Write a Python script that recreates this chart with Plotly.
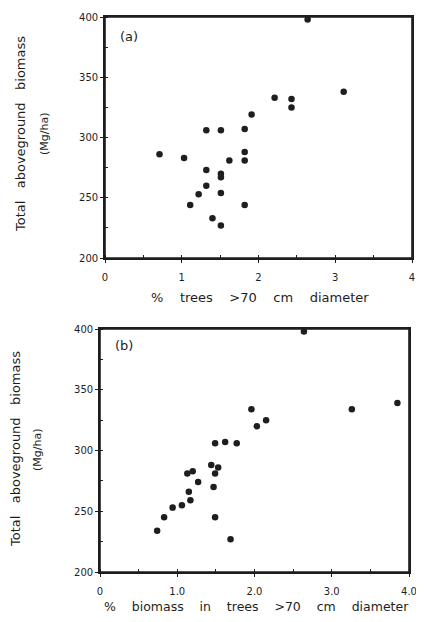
import plotly.graph_objects as go

# Panel (a): % trees >70 cm diameter vs total aboveground biomass
a_x = [2.64, 3.11, 2.21, 2.43, 2.43, 1.91, 1.32, 1.51, 1.82, 0.71, 1.03, 1.82,
       1.62, 1.82, 1.32, 1.51, 1.51, 1.32, 1.22, 1.51, 1.11, 1.82, 1.40, 1.51]
a_y = [398, 338, 333, 332, 325, 319, 306, 306, 307, 286, 283, 288,
       281, 281, 273, 270, 267, 260, 253, 254, 244, 244, 233, 227]

# Panel (b): % biomass in trees >70 cm diameter vs total aboveground biomass
b_x = [2.64, 3.85, 3.26, 1.96, 2.15, 2.03, 1.49, 1.62, 1.77, 1.44, 1.53, 1.49,
       1.20, 1.13, 1.27, 1.47, 1.15, 1.17, 1.06, 0.94, 0.83, 1.49, 0.74, 1.69]
b_y = [398, 339, 334, 334, 325, 320, 306, 307, 306, 288, 286, 281,
       283, 281, 274, 270, 266, 259, 255, 253, 245, 245, 234, 227]

y_ticks = [200, 250, 300, 350, 400]
a_xticks = [0, 1, 2, 3, 4]
a_xlabels = ["0", "1", "2", "3", "4"]
b_xticks = [0, 1, 2, 3, 4]
b_xlabels = ["0", "1.0", "2.0", "3.0", "4.0"]

# page body has an 8px margin; the visible width ends a little before 424
OFF = 8
W, H = 424 - OFF, 622 - 2 * OFF
FONT = "DejaVu Sans"
INK = "#1e1e1e"

def xp(X):  # window pixel -> paper fraction
    return (X - OFF) / W

def yp(Y):
    return 1 - (Y - OFF) / H

fig = go.Figure()
marker = dict(color=INK, size=6.5, symbol="circle")
fig.add_trace(go.Scatter(x=a_x, y=a_y, mode="markers", marker=marker,
                         xaxis="x", yaxis="y", showlegend=False))
fig.add_trace(go.Scatter(x=b_x, y=b_y, mode="markers", marker=marker,
                         xaxis="x2", yaxis="y2", showlegend=False))

def xax(domain, anchor, tickvals, ticktext):
    return dict(domain=domain, anchor=anchor, range=[0, 4], tickvals=tickvals,
                ticktext=ticktext, showgrid=False, zeroline=False, automargin=False,
                showline=True, linecolor=INK, linewidth=1.6, mirror=True,
                ticks="outside", ticklen=3, tickcolor=INK, tickwidth=1.2,
                ticklabelstandoff=6, ticklabeloverflow="allow",
                minor=dict(ticks="inside", ticklen=3, dtick=0.5, tickcolor=INK,
                           tickwidth=1, showgrid=False),
                tickfont=dict(family=FONT, size=10, color=INK))

def yax(domain, anchor):
    return dict(domain=domain, anchor=anchor, range=[200, 400], tickvals=y_ticks,
                showgrid=False, zeroline=False, automargin=False,
                showline=True, linecolor=INK, linewidth=1.6, mirror=True,
                ticks="outside", ticklen=3, tickcolor=INK, tickwidth=1.2,
                ticklabeloverflow="allow",
                minor=dict(ticks="inside", ticklen=3, dtick=25, tickcolor=INK,
                           tickwidth=1, showgrid=False),
                tickfont=dict(family=FONT, size=10, color=INK))

fig.update_layout(
    width=W, height=H, autosize=False,
    margin=dict(l=0, r=0, t=0, b=0, pad=0),
    paper_bgcolor="white", plot_bgcolor="white",
    xaxis=xax([xp(105), xp(412)], "y", a_xticks, a_xlabels),
    yaxis=yax([yp(258), yp(17)], "x"),
    xaxis2=xax([xp(100), xp(409)], "y2", b_xticks, b_xlabels),
    yaxis2=yax([yp(572), yp(329)], "x2"),
)

# frame boxes (drawn in axis-domain coordinates)
for xa, ya in (("x", "y"), ("x2", "y2")):
    fig.add_shape(type="rect", xref=xa + " domain", yref=ya + " domain",
                  x0=0, x1=1, y0=0, y1=1, line=dict(color=INK, width=1.6),
                  layer="above")

def ann(text, X, Y, size, angle=0):
    fig.add_annotation(text=text, x=xp(X), y=yp(Y), xref="paper", yref="paper",
                       showarrow=False, textangle=angle, xanchor="center",
                       yanchor="middle",
                       font=dict(family=FONT, size=size, color=INK))

sp3 = "\u00a0" * 3
sp4 = "\u00a0" * 4
ytitle = sp3.join(["Total", "aboveground", "biomass"])
ann(ytitle, 21, 134, 13, -90)
ann("(Mg/ha)", 45, 134, 11, -90)
ann(ytitle, 15, 449, 13, -90)
ann("(Mg/ha)", 38, 450, 11, -90)
ann(sp4.join(["%", "trees", ">70", "cm", "diameter"]), 260, 297, 13)
ann(sp4.join(["%", "biomass", "in", "trees", ">70", "cm", "diameter"]), 256, 606, 12.5)
ann("(a)", 129, 37, 13)
ann("(b)", 124, 345, 13)

fig.write_html("out.html")
